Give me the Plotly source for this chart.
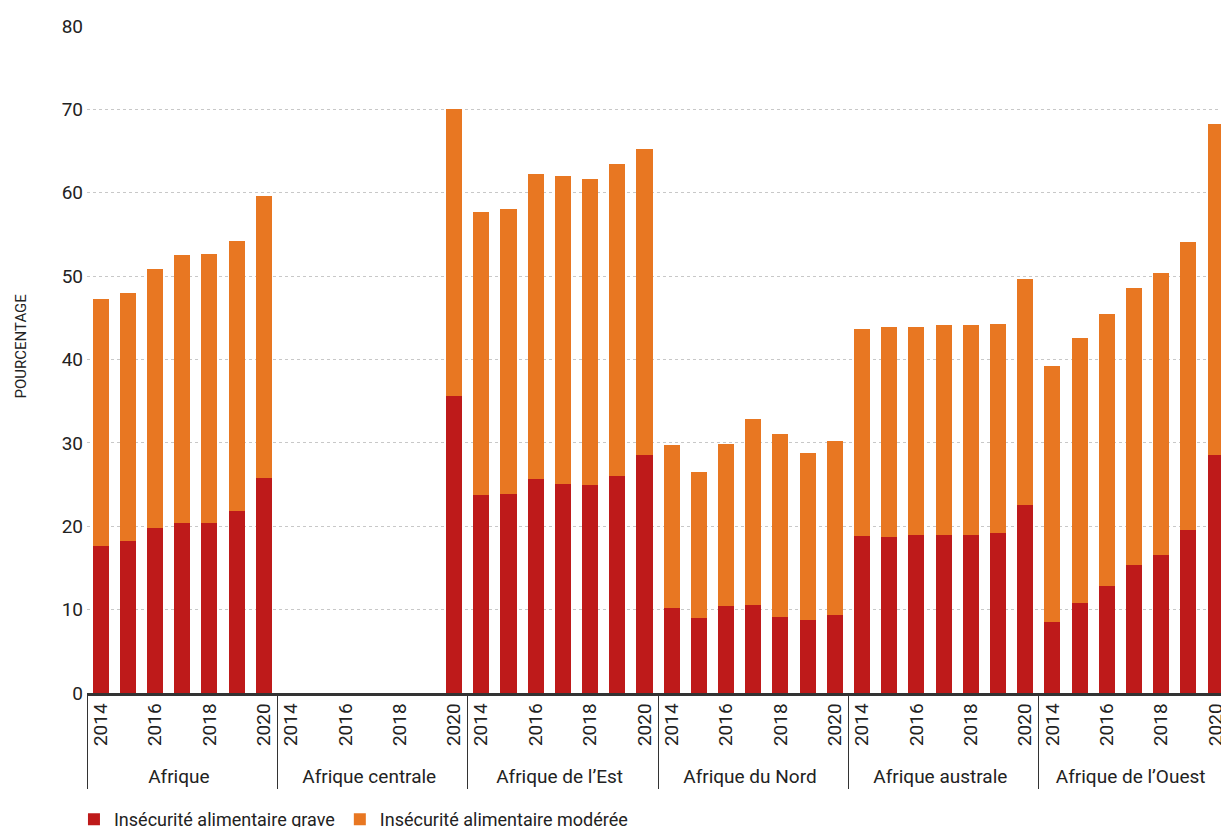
import plotly.graph_objects as go

regions = ["Afrique", "Afrique centrale", "Afrique de l\u2019Est", "Afrique du Nord",
           "Afrique australe", "Afrique de l\u2019Ouest"]
years = [2014, 2015, 2016, 2017, 2018, 2019, 2020]
# tick labels shown (odd years hidden, with distinct invisible labels)
year_labels = ["2014", "\u200b", "2016", "\u200b\u200b", "2018", "\u200b\u200b\u200b", "2020"]

grave = {
    "Afrique": [17.6, 18.2, 19.8, 20.4, 20.4, 21.8, 25.8],
    "Afrique centrale": [None, None, None, None, None, None, 35.6],
    "Afrique de l\u2019Est": [23.7, 23.9, 25.7, 25.1, 24.9, 26.0, 28.6],
    "Afrique du Nord": [10.2, 9.0, 10.4, 10.5, 9.1, 8.7, 9.3],
    "Afrique australe": [18.8, 18.7, 18.9, 18.9, 18.9, 19.2, 22.6],
    "Afrique de l\u2019Ouest": [8.5, 10.8, 12.8, 15.3, 16.6, 19.6, 28.6],
}
total = {
    "Afrique": [47.2, 48.0, 50.8, 52.5, 52.7, 54.2, 59.6],
    "Afrique centrale": [None, None, None, None, None, None, 70.0],
    "Afrique de l\u2019Est": [57.7, 58.1, 62.2, 62.0, 61.6, 63.4, 65.3],
    "Afrique du Nord": [29.7, 26.5, 29.9, 32.9, 31.1, 28.8, 30.2],
    "Afrique australe": [43.7, 43.9, 43.9, 44.1, 44.1, 44.3, 49.6],
    "Afrique de l\u2019Ouest": [39.2, 42.6, 45.5, 48.6, 50.4, 54.1, 68.3],
}

x_groups, x_years, y_grave, y_mod = [], [], [], []
for r in regions:
    for i, lab in enumerate(year_labels):
        x_groups.append(r)
        x_years.append(lab)
        g = grave[r][i]
        t = total[r][i]
        y_grave.append(g)
        y_mod.append(None if (g is None or t is None) else round(t - g, 2))

RED = "#BE1A1A"
ORANGE = "#E87722"
FONT = "Roboto"

fig = go.Figure()
fig.add_trace(go.Bar(x=[x_groups, x_years], y=y_grave, name="Ins\u00e9curit\u00e9 alimentaire grave",
                     marker_color=RED, marker_line_width=0))
fig.add_trace(go.Bar(x=[x_groups, x_years], y=y_mod, name="Ins\u00e9curit\u00e9 alimentaire mod\u00e9r\u00e9e",
                     marker_color=ORANGE, marker_line_width=0))

fig.update_layout(
    barmode="stack",
    bargap=0.41,
    width=1221, height=827,
    margin=dict(l=87, r=0, t=26, b=134, autoexpand=False),
    paper_bgcolor="white", plot_bgcolor="white",
    font=dict(family=FONT, size=18, color="#222"),
    legend=dict(orientation="h", x=-0.0115, xanchor="left", y=-0.162, yanchor="top",
                font=dict(size=18, color="#222"), traceorder="normal",
                itemwidth=30),
    showlegend=True,
)
fig.add_annotation(text="POURCENTAGE", xref="paper", yref="paper", x=0, y=0.5,
                   xanchor="center", yanchor="middle", xshift=-67, yshift=13,
                   textangle=-90, showarrow=False, font=dict(size=15, color="#222"))
fig.update_xaxes(
    type="multicategory",
    tickangle=-90,
    dtick=1,
    automargin=False,
    showline=True, linecolor="#333", linewidth=2.5,
    ticks="", showgrid=False,
    showdividers=True, dividercolor="#333", dividerwidth=1,
    tickfont=dict(size=19, color="#222"),
    range=[-0.5, 41.2],
)
fig.update_yaxes(
    range=[0, 80], dtick=10,
    automargin=False,
    showgrid=True, gridcolor="#c8c8c8", griddash="dot", gridwidth=1,
    zeroline=False, showline=False, ticks="",
    ticklabelstandoff=3,
    tickfont=dict(size=19, color="#222"),
)

fig.write_html(
    "out.html",
    config={"displayModeBar": False},
    post_script="document.body.style.margin='0';document.body.style.overflow='hidden';",
)
